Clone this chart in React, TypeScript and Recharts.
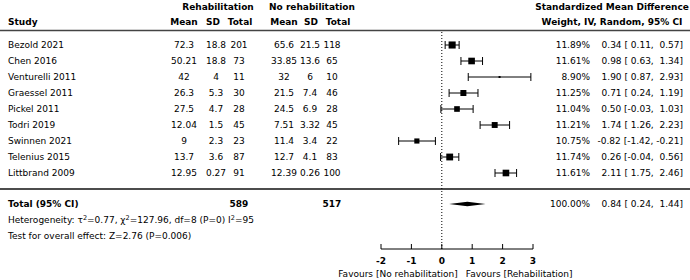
import React from "react";
import {
  ComposedChart,
  Scatter,
  XAxis,
  YAxis,
  ErrorBar,
  ReferenceLine,
  ReferenceArea,
  Customized,
} from "recharts";

const studies = [
  "Bezold 2021",
  "Chen 2016",
  "Venturelli 2011",
  "Graessel 2011",
  "Pickel 2011",
  "Todri 2019",
  "Swinnen 2021",
  "Telenius 2015",
  "Littbrand 2009",
];
const rehabMean = [72.3, 50.21, 42, 26.3, 27.5, 12.04, 9, 13.7, 12.95];
const rehabSD = [18.8, 18.8, 4, 5.3, 4.7, 1.5, 2.3, 3.6, 0.27];
const rehabN = [201, 73, 11, 30, 28, 45, 23, 87, 91];
const ctrlMean = [65.6, 33.85, 32, 21.5, 24.5, 7.51, 11.4, 12.7, 12.39];
const ctrlSD = [21.5, 13.6, 6, 7.4, 6.9, 3.32, 3.4, 4.1, 0.26];
const ctrlN = [118, 65, 10, 46, 28, 45, 22, 83, 100];
const weights = [11.89, 11.61, 8.9, 11.25, 11.04, 11.21, 10.75, 11.74, 11.61];
const smd = [0.34, 0.98, 1.9, 0.71, 0.5, 1.74, -0.82, 0.26, 2.11];
const ciLow = [0.11, 0.63, 0.87, 0.24, -0.03, 1.26, -1.42, -0.04, 1.75];
const ciHigh = [0.57, 1.34, 2.93, 1.19, 1.03, 2.23, -0.21, 0.56, 2.46];

const totalRehab = 589;
const totalCtrl = 517;
const totalWeight = 100;
const totalSmd = 0.84;
const totalLow = 0.24;
const totalHigh = 1.44;
const heterogeneity = ["0.77", "127.96", "8", "0", "95"];
const overallTest = "Z=2.76 (P=0.006)";

const xTicks = [-2, -1, 0, 1, 2, 3];

const TOTAL_ROW = 9.94;
const FONT = "DejaVu Sans";

const rows = studies.map((name, i) => ({
  name,
  row: i,
  x: smd[i],
  err: [smd[i] - ciLow[i], ciHigh[i] - smd[i]],
  rm: rehabMean[i],
  rs: rehabSD[i],
  rn: rehabN[i],
  cm: ctrlMean[i],
  cs: ctrlSD[i],
  cn: ctrlN[i],
  w: weights[i],
  lo: ciLow[i],
  hi: ciHigh[i],
}));

const totalRow = [{ row: TOTAL_ROW, x: totalSmd }];

const pad = (v: number) => (v < 0 ? "" : " ") + v.toFixed(2);
const ciText = (e: number, lo: number, hi: number) =>
  `${e.toFixed(2)} [${pad(lo)}, ${pad(hi)}]`;

const txt = { fontFamily: FONT, fontSize: 9, fill: "#000", whiteSpace: "pre" } as const;
const bold = { ...txt, fontWeight: "bold" as const };

// column positions (px)
const COL = { study: 8, rm: 184, rs: 216, rn: 239, cm: 284, cs: 310, cn: 332, w: 590, ci: 683 };

function TextRow(props: any) {
  const { cy, payload: p } = props;
  const y = cy + 3.2;
  return (
    <g>
      <text x={COL.study} y={y} style={txt}>{p.name}</text>
      <text x={COL.rm} y={y} textAnchor="middle" style={txt}>{p.rm}</text>
      <text x={COL.rs} y={y} textAnchor="middle" style={txt}>{p.rs}</text>
      <text x={COL.rn} y={y} textAnchor="middle" style={txt}>{p.rn}</text>
      <text x={COL.cm} y={y} textAnchor="middle" style={txt}>{p.cm}</text>
      <text x={COL.cs} y={y} textAnchor="middle" style={txt}>{p.cs}</text>
      <text x={COL.cn} y={y} textAnchor="middle" style={txt}>{p.cn}</text>
      <text x={COL.w} y={y} textAnchor="end" style={txt}>{p.w.toFixed(2)}%</text>
      <text x={COL.ci} y={y} textAnchor="end" style={txt}>{ciText(p.x, p.lo, p.hi)}</text>
    </g>
  );
}

function Square(props: any) {
  const { cx, cy, payload } = props;
  const s = 2 + (payload.w - 8.9) * 1.7;
  return <rect x={cx - s / 2} y={cy - s / 2} width={s} height={s} fill="#000" />;
}

function TotalText(props: any) {
  const { cy } = props;
  const y = cy + 3.2;
  const [tau, chi, df, p, i2] = heterogeneity;
  return (
    <g>
      <text x={COL.study} y={y} style={bold}>Total (95% CI)</text>
      <text x={COL.rn} y={y} textAnchor="middle" style={bold}>{totalRehab}</text>
      <text x={COL.cn} y={y} textAnchor="middle" style={bold}>{totalCtrl}</text>
      <text x={COL.w} y={y} textAnchor="end" style={txt}>{totalWeight.toFixed(2)}%</text>
      <text x={COL.ci} y={y} textAnchor="end" style={txt}>{ciText(totalSmd, totalLow, totalHigh)}</text>
      <text x={COL.study} y={y + 16} style={txt}>
        Heterogeneity: τ<tspan dy={-3} fontSize={6.5}>2</tspan>
        <tspan dy={3}>={tau}, χ</tspan>
        <tspan dy={-3} fontSize={6.5}>2</tspan>
        <tspan dy={3}>={chi}, df={df} (P={p}) I</tspan>
        <tspan dy={-3} fontSize={6.5}>2</tspan>
        <tspan dy={3}>={i2}</tspan>
      </text>
      <text x={COL.study} y={y + 32} style={txt}>Test for overall effect: {overallTest}</text>
    </g>
  );
}

function Diamond(props: any) {
  const { x, y, width, height } = props;
  const pts = [
    [x, y + height / 2],
    [x + width / 2, y],
    [x + width, y + height / 2],
    [x + width / 2, y + height],
  ]
    .map((p) => p.join(","))
    .join(" ");
  return <polygon points={pts} fill="#000" />;
}

function AxisTick(props: any) {
  const { x, y, payload } = props;
  return (
    <g>
      <line x1={x} x2={x} y1={y} y2={y - 5} stroke="#000" />
      <text x={x} y={y + 15} textAnchor="middle" style={bold}>
        {payload.value}
      </text>
      {payload.value === 0 && (
        <>
          <text x={x + 16} y={y + 28} textAnchor="end" style={txt}>
            Favours [No rehabilitation]
          </text>
          <text x={x + 24} y={y + 28} style={txt}>
            Favours [Rehabilitation]
          </text>
        </>
      )}
    </g>
  );
}

function Header() {
  return (
    <g>
      <text x={218} y={10} textAnchor="middle" style={bold}>Rehabilitation</text>
      <text x={312} y={10} textAnchor="middle" style={bold}>No rehabilitation</text>
      <text x={612} y={10} textAnchor="middle" style={bold}>Standardized Mean Difference</text>
      <text x={COL.study} y={24.5} style={bold}>Study</text>
      <text x={184} y={24.5} textAnchor="middle" style={bold}>Mean</text>
      <text x={213} y={24.5} textAnchor="middle" style={bold}>SD</text>
      <text x={240} y={24.5} textAnchor="middle" style={bold}>Total</text>
      <text x={284} y={24.5} textAnchor="middle" style={bold}>Mean</text>
      <text x={311} y={24.5} textAnchor="middle" style={bold}>SD</text>
      <text x={338} y={24.5} textAnchor="middle" style={bold}>Total</text>
      <text x={612} y={24.5} textAnchor="middle" style={bold}>Weight, IV, Random, 95% CI</text>
      <line x1={0} x2={690} y1={30.5} y2={30.5} stroke="#444" strokeWidth={1.5} />
      <line x1={0} x2={690} y1={189} y2={189} stroke="#111" strokeWidth={1.5} />
    </g>
  );
}

export default function App() {
  return (
    <div style={{ position: "absolute", left: 0, top: 0, width: 690, height: 280, background: "#fff" }}>
      <ComposedChart width={690} height={280} margin={{ top: 30, right: 157, bottom: 0, left: 381 }}>
        <XAxis
          type="number"
          dataKey="x"
          domain={[-2, 3]}
          ticks={xTicks}
          interval={0}
          height={31}
          tickSize={0}
          tickMargin={0}
          tickLine={false}
          axisLine={{ stroke: "#000" }}
          tick={<AxisTick />}
        />
        <YAxis type="number" dataKey="row" domain={[-0.9375, 12.75]} reversed hide width={0} />
        <Customized component={Header} />
        <ReferenceLine x={0} stroke="#000" strokeDasharray="1 2" />
        <Scatter data={rows} dataKey="row" shape={TextRow} isAnimationActive={false} />
        <Scatter data={rows} dataKey="row" shape={Square} isAnimationActive={false}>
          <ErrorBar dataKey="err" direction="x" width={4} stroke="#000" strokeWidth={1} />
        </Scatter>
        <Scatter data={totalRow} dataKey="row" shape={TotalText} isAnimationActive={false} />
        <ReferenceArea
          x1={totalLow}
          x2={totalHigh}
          y1={TOTAL_ROW - 0.14}
          y2={TOTAL_ROW + 0.14}
          shape={Diamond}
        />
      </ComposedChart>
    </div>
  );
}
